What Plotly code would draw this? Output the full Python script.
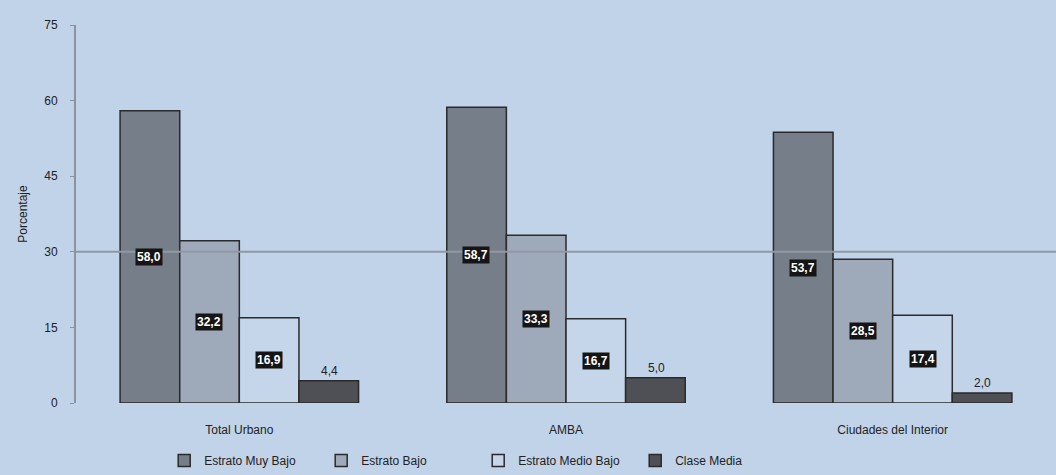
import plotly.graph_objects as go

categories = ["Total Urbano", "AMBA", "Ciudades del Interior"]
series_names = ["Estrato Muy Bajo", "Estrato Bajo", "Estrato Medio Bajo", "Clase Media"]
muy_bajo = [58.0, 58.7, 53.7]
bajo = [32.2, 33.3, 28.5]
medio_bajo = [16.9, 16.7, 17.4]
clase_media = [4.4, 5.0, 2.0]
y_ticks = [0, 15, 30, 45, 60, 75]
ref_line = 30

series = [muy_bajo, bajo, medio_bajo, clase_media]
colors = ["#767e89", "#9ea9ba", "#c6d6ea", "#4e5056"]
bg = "#c1d3e8"

fig = go.Figure()
for name, vals, col in zip(series_names, series, colors):
    fig.add_trace(go.Bar(
        x=categories, y=vals, name=name,
        marker=dict(color=col, line=dict(color="#2a2a2a", width=1.5)),
    ))

bar_px = 60
offsets = [-1.5, -0.5, 0.5, 1.5]
for si, vals in enumerate(series):
    for ci, cat in enumerate(categories):
        label = f"{vals[ci]:.1f}".replace(".", ",")
        if si < 3:
            fig.add_annotation(x=cat, y=vals[ci] / 2, text=f"<b>{label}</b>",
                               xshift=offsets[si] * bar_px, showarrow=False,
                               font=dict(color="white", size=12, family="Liberation Sans, Arial"),
                               bgcolor="#151515", borderpad=1)
        else:
            fig.add_annotation(x=cat, y=vals[ci], text=label, yanchor="bottom",
                               xshift=offsets[si] * bar_px, showarrow=False, yshift=1,
                               font=dict(color="#222", size=12, family="Liberation Sans, Arial"))

fig.add_shape(type="line", xref="paper", x0=0, x1=1, yref="y", y0=ref_line, y1=ref_line,
              line=dict(color="#8f99a6", width=2))

fig.update_layout(
    width=1056, height=475,
    margin=dict(l=76, r=0, t=25, b=62),
    paper_bgcolor=bg, plot_bgcolor=bg,
    barmode="group", bargap=0.27, bargroupgap=0,
    font=dict(family="Liberation Sans, Arial", size=12, color="#222"),
    showlegend=True,
    legend=dict(orientation="h", x=0.09, xanchor="left", y=-0.115, yanchor="top",
                font=dict(size=12), entrywidth=112, entrywidthmode="pixels",
                traceorder="normal"),
    yaxis=dict(range=[0, 75], tickvals=y_ticks, showgrid=False, zeroline=False,
               showline=True, linecolor="#8a939e", linewidth=2,
               ticks="outside", ticklen=4, tickcolor="#8a939e", ticklabelstandoff=10,
               title=dict(text="Porcentaje", font=dict(size=12), standoff=14)),
    xaxis=dict(showgrid=False, showline=False, ticks="", tickfont=dict(size=12),
               ticklabelstandoff=18),
)

fig.write_html("out.html")
